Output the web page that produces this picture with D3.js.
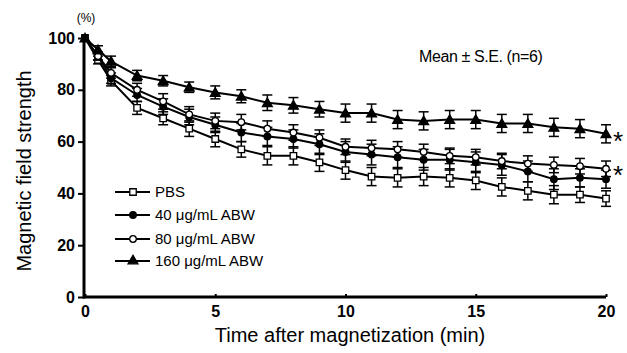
<!DOCTYPE html>
<html>
<head>
<meta charset="utf-8">
<script src="https://d3js.org/d3.v7.min.js"></script>
<style>
  body { margin: 0; background: #fff; }
  svg text { font-family: Arial, "Liberation Sans", sans-serif; fill: #000; }
</style>
</head>
<body>
<div id="chart"></div>
<script>
// time points (min)
var times = [0, 0.5, 1, 2, 3, 4, 5, 6, 7, 8, 9, 10, 11, 12, 13, 14, 15, 16, 17, 18, 19, 20];

// mean values (%)
var pbs    = [100, 91.5, 83.5, 73, 69, 65, 61, 57, 54.5, 54.5, 52, 49, 46.5, 46, 46.5, 46, 45, 42.5, 41, 39.5, 39.5, 38];
var abw40  = [100, 93, 84.5, 78, 73.5, 69.5, 66.5, 63.5, 62, 61, 59, 56, 55, 54, 53, 53, 52, 51, 48.5, 45.5, 46, 45.5];
var abw80  = [100, 93, 86.5, 80, 75.5, 70.5, 68, 67.5, 65, 63.5, 61.5, 58, 57.5, 57, 56, 54.5, 54, 52.5, 51.5, 51, 50.5, 49.5];
var abw160 = [100, 95.5, 91, 85.5, 83.5, 81, 79, 77.5, 75, 74, 72.5, 71, 71, 68.5, 68, 68.5, 68.5, 67, 67, 65.5, 65, 63];

// standard errors
var pbsSE    = [0, 1.5, 2, 2.5, 2.5, 3, 3, 3, 3.5, 3.5, 3.5, 3.5, 3.5, 3.5, 3.5, 3.5, 3.5, 3.5, 3.5, 3.5, 3, 3];
var abw40SE  = [0, 1.5, 2, 2.5, 3, 3, 3, 3.5, 3.5, 3.5, 4, 4, 4, 4, 4, 4, 4, 4, 4, 4, 3.5, 3.5];
var abw80SE  = [0, 1.5, 2, 2.5, 3, 3, 3, 3, 3, 3, 3, 3, 3, 3, 3, 3, 3, 3, 3, 3, 3, 3];
var abw160SE = [0, 1.5, 2, 2, 2, 2, 2.5, 2.5, 3, 3, 3, 3.5, 3.5, 3.5, 3.5, 3.5, 3.5, 3.5, 3.5, 3.5, 3.5, 3.5];

var seriesNames = ["PBS", "40 \u03bcg/mL ABW", "80 \u03bcg/mL ABW", "160 \u03bcg/mL ABW"];
var xTicks = [0, 5, 10, 15, 20];
var yTicks = [0, 20, 40, 60, 80, 100];

var W = 627, H = 353;
var svg = d3.select("#chart").append("svg").attr("width", W).attr("height", H);

var x = d3.scaleLinear().domain([0, 20]).range([85, 606]);
var y = d3.scaleLinear().domain([0, 100]).range([297, 38]);

var series = [
  {name: seriesNames[0], vals: pbs, se: pbsSE, shape: "square", fill: "#fff"},
  {name: seriesNames[1], vals: abw40, se: abw40SE, shape: "circle", fill: "#000"},
  {name: seriesNames[2], vals: abw80, se: abw80SE, shape: "circle", fill: "#fff"},
  {name: seriesNames[3], vals: abw160, se: abw160SE, shape: "triangle", fill: "#000"}
];

function symbolFor(s) {
  if (s.shape == "square") return d3.symbol().type(d3.symbolSquare).size(42)();
  if (s.shape == "circle") return d3.symbol().type(d3.symbolCircle).size(34)();
  return d3.symbol().type(d3.symbolTriangle).size(42)();
}

// axes
var yAxis = svg.append("g").attr("transform", "translate(84,0)")
  .call(d3.axisLeft(y).tickValues(yTicks).tickSize(6).tickPadding(3));
var xAxis = svg.append("g").attr("transform", "translate(0,297)")
  .call(d3.axisBottom(x).tickValues(xTicks).tickSize(-3).tickPadding(9));

[yAxis, xAxis].forEach(function(ax) {
  ax.select(".domain").attr("stroke", "#000").attr("stroke-width", 3);
  ax.selectAll(".tick line").attr("stroke", "#000").attr("stroke-width", 2);
  ax.selectAll(".tick text")
    .style("font-size", "16px").style("font-weight", "bold")
    .style("font-family", "Arial, 'Liberation Sans', sans-serif");
});
xAxis.select(".domain").attr("d", "M" + (x(0) - 2) + ",0H" + x(20));
yAxis.select(".domain").attr("d", "M0," + y(100) + "V" + (y(0) + 1.5));

// axis titles
svg.append("text").attr("x", 86).attr("y", 22).attr("text-anchor", "middle")
  .style("font-size", "12px").text("(%)");
svg.append("text").attr("transform", "translate(31,171) rotate(-90)")
  .attr("text-anchor", "middle").style("font-size", "20px").text("Magnetic field strength");
svg.append("text").attr("x", 350).attr("y", 342).attr("text-anchor", "middle")
  .style("font-size", "20px").text("Time after magnetization (min)");

svg.append("text").attr("x", 419).attr("y", 62)
  .style("font-size", "16px").style("letter-spacing", "-0.4px").text("Mean \u00b1 S.E. (n=6)");

// lines + error bars + markers
var line = d3.line().x(function(d) { return x(d[0]); }).y(function(d) { return y(d[1]); });

series.forEach(function(s) {
  var pts = times.map(function(t, i) { return [t, s.vals[i], s.se[i]]; });
  var g = svg.append("g");
  g.append("path").datum(pts).attr("d", line)
    .attr("fill", "none").attr("stroke", "#000").attr("stroke-width", 2);
  var eb = g.selectAll(".eb").data(pts.filter(function(d) { return d[2] > 0; })).enter().append("g");
  eb.append("line")
    .attr("x1", function(d) { return x(d[0]); }).attr("x2", function(d) { return x(d[0]); })
    .attr("y1", function(d) { return y(d[1] - d[2]); }).attr("y2", function(d) { return y(d[1] + d[2]); })
    .attr("stroke", "#000").attr("stroke-width", 1.5);
  [-1, 1].forEach(function(sg) {
    eb.append("line")
      .attr("x1", function(d) { return x(d[0]) - 5; }).attr("x2", function(d) { return x(d[0]) + 5; })
      .attr("y1", function(d) { return y(d[1] + sg * d[2]); }).attr("y2", function(d) { return y(d[1] + sg * d[2]); })
      .attr("stroke", "#000").attr("stroke-width", 1.5);
  });
  g.selectAll(".pt").data(pts).enter().append("path")
    .attr("d", symbolFor(s))
    .attr("transform", function(d) { return "translate(" + x(d[0]) + "," + (y(d[1]) + (s.shape == "triangle" ? 1 : 0)) + ")"; })
    .attr("fill", s.fill).attr("stroke", "#000").attr("stroke-width", 1.3);
});

// significance marks
svg.append("text").attr("x", 613).attr("y", 150).style("font-size", "26px").text("*");
svg.append("text").attr("x", 613).attr("y", 184).style("font-size", "26px").text("*");

// legend
var legY = [192, 215, 239, 261];
var leg = svg.append("g");
series.forEach(function(s, i) {
  leg.append("line").attr("x1", 115).attr("x2", 150).attr("y1", legY[i]).attr("y2", legY[i])
    .attr("stroke", "#000").attr("stroke-width", 2);
  leg.append("path").attr("d", symbolFor(s))
    .attr("transform", "translate(133," + legY[i] + ")")
    .attr("fill", s.fill).attr("stroke", "#000").attr("stroke-width", 1.3);
  leg.append("text").attr("x", 155).attr("y", legY[i] + 5)
    .style("font-size", "15px").text(s.name);
});
</script>
</body>
</html>
